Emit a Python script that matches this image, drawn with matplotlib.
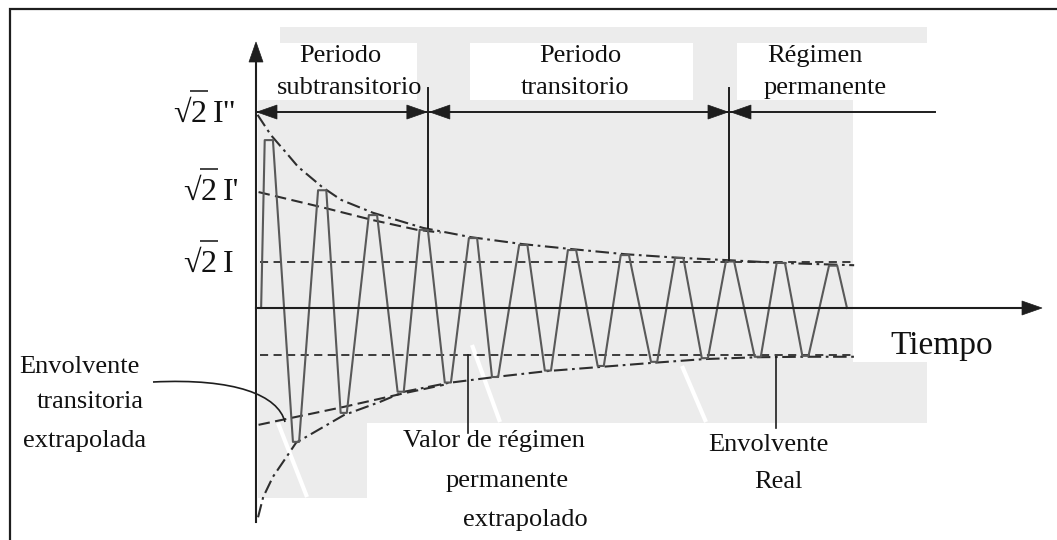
import matplotlib
matplotlib.use("Agg")
import matplotlib.pyplot as plt
from matplotlib.patches import Polygon, Rectangle, PathPatch
from matplotlib.path import Path

plt.rcParams['font.family'] = ['Liberation Serif', 'DejaVu Serif']

# ---------------------------------------------------------------------------
# Short-circuit current of a synchronous machine (time in cycles, current in
# units of the steady-state peak value sqrt(2)*I)
# ---------------------------------------------------------------------------
level_names = ['I"', "I'", 'I']
level_values = [4.26, 2.52, 1.00]          # sqrt2 I'', sqrt2 I', sqrt2 I
steady_lower = -1.02

period_names = [("Periodo", "subtransitorio"), ("Periodo", "transitorio"),
                ("Régimen", "permanente")]
period_bounds = [0.0, 3.35, 9.22, 13.24]   # start / boundaries / end (cycles)
bound_bottoms = [1.73, 1.04]                # where the boundary marks meet the envelope

# instantaneous current: start, peaks, troughs, end
wave_start = 0.10
wave_end = 11.52
peak_t = [0.25, 1.29, 2.28, 3.27, 4.23, 5.21, 6.16, 7.19, 8.25, 9.24, 10.23, 11.25]
peak_i = [3.65, 2.56, 2.02, 1.70, 1.52, 1.37, 1.26, 1.15, 1.09, 1.01, 0.98, 0.92]
trough_t = [0.78, 1.71, 2.82, 3.74, 4.66, 5.69, 6.72, 7.76, 8.75, 9.78, 10.71]
trough_i = [-2.91, -2.28, -1.82, -1.62, -1.50, -1.36, -1.26, -1.17, -1.09, -1.06, -1.04]

# real envelopes
upper_env_t = [0.03, 0.29, 0.60, 0.82, 1.29, 1.66, 2.28, 3.26, 4.19, 5.19, 6.16,
               7.19, 8.26, 9.20, 10.21, 11.66]
upper_env_i = [4.20, 3.76, 3.36, 3.07, 2.63, 2.35, 2.07, 1.74, 1.54, 1.39, 1.28,
               1.17, 1.09, 1.04, 0.98, 0.93]
lower_env_t = [0.04, 0.14, 0.33, 0.66, 0.78, 1.71, 2.42, 2.89, 3.74, 4.66, 5.69,
               6.73, 7.76, 8.75, 9.79, 10.70, 11.66]
lower_env_i = [-4.55, -4.11, -3.67, -3.13, -2.93, -2.33, -2.04, -1.82, -1.63, -1.50,
               -1.37, -1.28, -1.19, -1.11, -1.07, -1.06, -1.06]

# extrapolated transient envelopes
trans_up_t = [0.05, 1.36, 2.28, 3.14, 3.60]
trans_up_i = [2.52, 2.17, 1.91, 1.70, 1.64]
trans_lo_t = [0.05, 0.60, 1.71, 2.90, 3.66]
trans_lo_i = [-2.54, -2.41, -2.15, -1.85, -1.67]

steady_t = [0.08, 11.66]

# ---------------------------------------------------------------------------
W, H = 1057, 540
X0, Y0 = 256, 308        # canvas position of the origin (pixels)
SX, SY = 51.3, 46.0      # pixels per cycle / per unit current


def P(xp, yp):
    """canvas pixel -> data coordinates"""
    return (xp - X0) / SX, (Y0 - yp) / SY


fig = plt.figure(figsize=(W / 100, H / 100), dpi=100)
ax = fig.add_axes([0, 0, 1, 1])
ax.set_xlim(-X0 / SX, (W - X0) / SX)
ax.set_ylim((Y0 - H) / SY, Y0 / SY)
ax.axis('off')
renderer = fig.canvas.get_renderer()

INK = '#1e1e1e'
TXT = '#111111'
WAVE = '#595959'
ENV = '#2e2e2e'
PAPER = '#ececec'


def rect_px(x1, y1, x2, y2, color=PAPER, z=0):
    (a, b), (c, d) = P(x1, y2), P(x2, y1)
    ax.add_patch(Rectangle((a, b), c - a, d - b, facecolor=color,
                           edgecolor='none', zorder=z))


# scanned-paper background
for r in [(280, 27, 927, 43), (258, 100, 853, 308), (417, 43, 470, 100),
          (693, 43, 737, 100), (258, 308, 853, 362), (258, 362, 927, 423),
          (258, 423, 367, 498)]:
    rect_px(*r)
for (xa, ya, xb, yb) in [(278, 423, 307, 497), (472, 345, 500, 422),
                         (682, 366, 706, 422)]:
    (a, b), (c, d) = P(xa, ya), P(xb, yb)
    ax.plot([a, c], [b, d], color='white', lw=3.0, zorder=0.5,
            solid_capstyle='butt')

# frame
fx, fy = P(10, 9)
ax.plot([fx, fx, P(W + 5, 0)[0]], [P(0, H + 5)[1], fy, fy], color=INK, lw=1.6,
        zorder=5, solid_joinstyle='miter')


def head(xp, yp, direction, length=20, half=7, color=INK):
    if direction == 'left':
        pts = [(xp, yp), (xp + length, yp - half), (xp + length, yp + half)]
    elif direction == 'right':
        pts = [(xp, yp), (xp - length, yp - half), (xp - length, yp + half)]
    else:
        pts = [(xp, yp), (xp - half, yp + length), (xp + half, yp + length)]
    ax.add_patch(Polygon([P(*p) for p in pts], closed=True, facecolor=color,
                         edgecolor=color, lw=0.5, zorder=6))


# axes
y_top = P(0, 45)[1]
y_bot = P(0, 522)[1]
ax.plot([0, 0], [y_bot, y_top], color=INK, lw=1.5, zorder=5)
head(256, 42, 'up')
x_right = P(1025, 0)[0]
ax.plot([0, x_right], [0, 0], color=INK, lw=1.5, zorder=5)
head(1042, 308, 'right')

# steady-state levels (dashed)
dash_s = (0, (4.5, 3))
ax.plot(steady_t, [level_values[2]] * 2, color=ENV, lw=1.3, ls=dash_s, zorder=3)
ax.plot(steady_t, [steady_lower] * 2, color=ENV, lw=1.3, ls=dash_s, zorder=3)

# extrapolated transient envelopes (dashed)
dash_t = (0, (5.5, 2.6))
ax.plot(trans_up_t, trans_up_i, color=ENV, lw=1.5, ls=dash_t, zorder=3)
ax.plot(trans_lo_t, trans_lo_i, color=ENV, lw=1.5, ls=dash_t, zorder=3)

# real envelopes (dash-dot)
dash_d = (0, (6.5, 2.2, 1.3, 2.2))
ax.plot(upper_env_t, upper_env_i, color=ENV, lw=1.5, ls=dash_d, zorder=3)
ax.plot(lower_env_t, lower_env_i, color=ENV, lw=1.5, ls=dash_d, zorder=3)

# instantaneous current
ext = sorted([(t, v, 0.08) for t, v in zip(peak_t, peak_i)] +
             [(t, v, 0.06) for t, v in zip(trough_t, trough_i)])
wt, wi = [wave_start], [0.0]
for t, v, hw in ext:
    wt += [t - hw, t + hw]
    wi += [v, v]
wt.append(wave_end)
wi.append(0.0)
ax.plot(wt, wi, color=WAVE, lw=1.5, zorder=4, solid_joinstyle='round')

# period bar with arrows
lvl = level_values[0]
ax.plot([period_bounds[0], period_bounds[-1]], [lvl, lvl], color=INK, lw=1.4,
        zorder=5)
y_bar = Y0 - lvl * SY
head(X0 + period_bounds[0] * SX + 1, y_bar, 'left')
mark_top = P(0, 88)[1]
for tb, yb in zip(period_bounds[1:3], bound_bottoms):
    xb = X0 + tb * SX
    head(xb - 1, y_bar, 'right')
    head(xb + 2, y_bar, 'left')
    ax.plot([tb, tb], [yb, mark_top], color=INK, lw=1.4, zorder=5)

# level labels: radical sign with vinculum over the 2, then the symbol
LFS = 23
OVER = 31            # height of the vinculum above the baseline (px)
lab_x = [173, 183, 183]
lab_dy = [10, 8, 10]
for name, val, xl, dy in zip(level_names, level_values, lab_x, lab_dy):
    yb = Y0 - val * SY + dy
    t_root = ax.text(*P(xl, yb), '√', fontsize=LFS, ha='left', va='baseline',
                     color=TXT, zorder=7)
    xr = t_root.get_window_extent(renderer).x1
    t_two = ax.text(*P(xr, yb), '2', fontsize=LFS, ha='left', va='baseline',
                    color=TXT, zorder=7)
    x2 = t_two.get_window_extent(renderer).x1
    (a, b), (c, _) = P(xr - 1, yb - OVER), P(x2 + 1, yb - OVER)
    ax.plot([a, c], [b, b], color=TXT, lw=1.1, zorder=7, solid_capstyle='butt')
    ax.text(*P(x2 + 6, yb), name, fontsize=LFS, ha='left', va='baseline',
            color=TXT, zorder=7)

# period labels
per_x = [(340, 350), (580, 575), (815, 825)]
for (l1, l2), (x1, x2) in zip(period_names, per_x):
    for txt, xc, yb in [(l1, x1, 62), (l2, x2, 94)]:
        ax.text(*P(xc, yb), txt, fontsize=19, ha='center', va='baseline',
                color=TXT, zorder=7)

# axis title
ax.text(*P(890, 354), "Tiempo", fontsize=24, ha='left', va='baseline', color=TXT)

# annotations
FS = 19
for txt, xc, yb in [("Envolvente", 79, 373), ("transitoria", 90, 408),
                    ("extrapolada", 85, 447),
                    ("Valor de régimen", 494, 447), ("permanente", 507, 487),
                    ("extrapolado", 525, 526),
                    ("Envolvente", 768, 451), ("Real", 778, 488)]:
    ax.text(*P(xc, yb), txt, fontsize=FS, ha='center', va='baseline', color=TXT,
            zorder=7)

# leader lines
verts = [P(153, 382), P(235, 378), P(278, 395), P(285, 422)]
ax.add_patch(PathPatch(Path(verts, [Path.MOVETO, Path.CURVE4, Path.CURVE4,
                                    Path.CURVE4]),
                       facecolor='none', edgecolor=INK, lw=1.2, zorder=6))
for xl, ya, yb in [(468, 355, 433), (776, 357, 428)]:
    (a, b), (c, d) = P(xl, ya), P(xl, yb)
    ax.plot([a, c], [b, d], color=INK, lw=1.2, zorder=6)

fig.savefig("out.png", dpi=100, facecolor='white')
